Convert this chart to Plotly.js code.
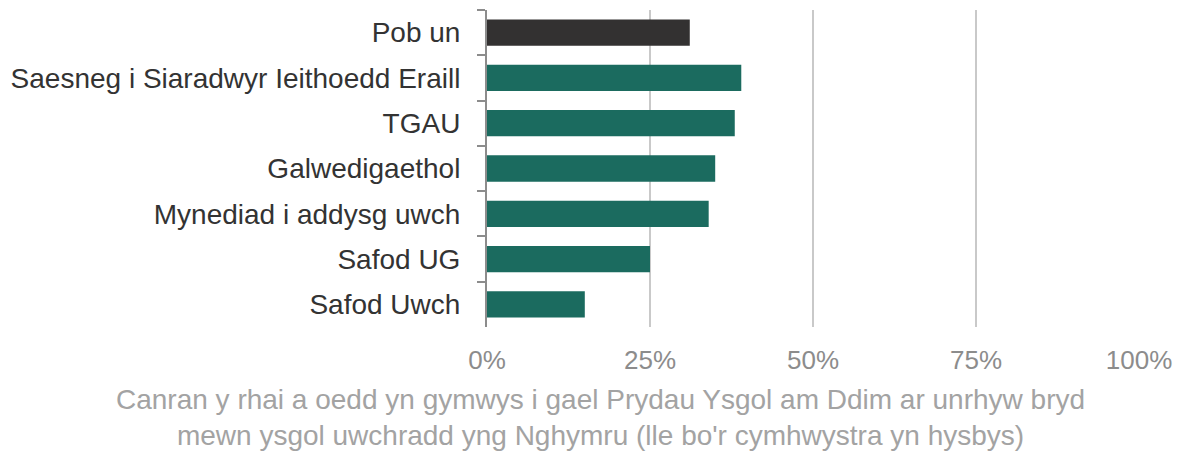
<!DOCTYPE html>
<html>
<head>
<meta charset="utf-8">
<script src="https://cdn.plot.ly/plotly-3.0.1.min.js"></script>
<style>html,body{margin:0;padding:0;background:#fff;}#chart{width:1186px;height:452px;}</style>
</head>
<body>
<div id="chart"></div>
<script>
const categories = ["Pob un", "Saesneg i Siaradwyr Ieithoedd Eraill", "TGAU", "Galwedigaethol", "Mynediad i addysg uwch", "Safod UG", "Safod Uwch"];
const values = [31.1, 39, 38, 35, 34, 25, 15];
const barColors = ["#333131", "#1b6b5f", "#1b6b5f", "#1b6b5f", "#1b6b5f", "#1b6b5f", "#1b6b5f"];
const xTickVals = [0, 25, 50, 75, 100];
const xTickText = ["0%", "25%", "50%", "75%", "100%"];
const xTitle = "Canran y rhai a oedd yn gymwys i gael Prydau Ysgol am Ddim ar unrhyw bryd<br>mewn ysgol uwchradd yng Nghymru (lle bo'r cymhwystra yn hysbys)";

const W = 1186, mL = 487, mR = 47;
const plotW = W - mL - mR;

const trace = {
  type: "bar",
  orientation: "h",
  y: categories,
  x: values,
  width: 0.58,
  marker: {color: barColors, line: {width: 0}},
  hoverinfo: "none"
};

const layout = {
  width: 1186, height: 452,
  margin: {l: mL, r: mR, t: 10, b: 125, pad: 0},
  paper_bgcolor: "#ffffff",
  plot_bgcolor: "#ffffff",
  font: {family: "Liberation Sans, Arial, sans-serif", color: "#333333"},
  showlegend: false,
  bargap: 0.42,
  xaxis: {
    range: [0, 100],
    tickvals: xTickVals,
    ticktext: xTickText,
    showgrid: true,
    gridcolor: "#c9c9c9",
    gridwidth: 2,
    zeroline: false,
    showline: false,
    ticks: "",
    ticklabelstandoff: 15,
    tickfont: {size: 26, color: "#8c8c8c"},
    fixedrange: true
  },
  yaxis: {
    type: "category",
    autorange: false,
    range: [6.5, -0.5],
    showgrid: false,
    zeroline: false,
    showline: true,
    linecolor: "#8c8c8c",
    linewidth: 2,
    ticks: "outside",
    tickson: "boundaries",
    ticklen: 8,
    tickwidth: 2,
    tickcolor: "#8c8c8c",
    ticklabelstandoff: 19,
    tickfont: {size: 28, color: "#333333"},
    fixedrange: true
  },
  annotations: [{
    xref: "paper", yref: "paper",
    x: (600 - mL) / plotW, y: 0,
    xanchor: "center", yanchor: "top",
    yshift: -55,
    text: xTitle,
    showarrow: false,
    align: "center",
    font: {size: 28, color: "#a3a3a3"}
  }]
};

Plotly.newPlot("chart", [trace], layout, {displayModeBar: false, staticPlot: true});
</script>
</body>
</html>
